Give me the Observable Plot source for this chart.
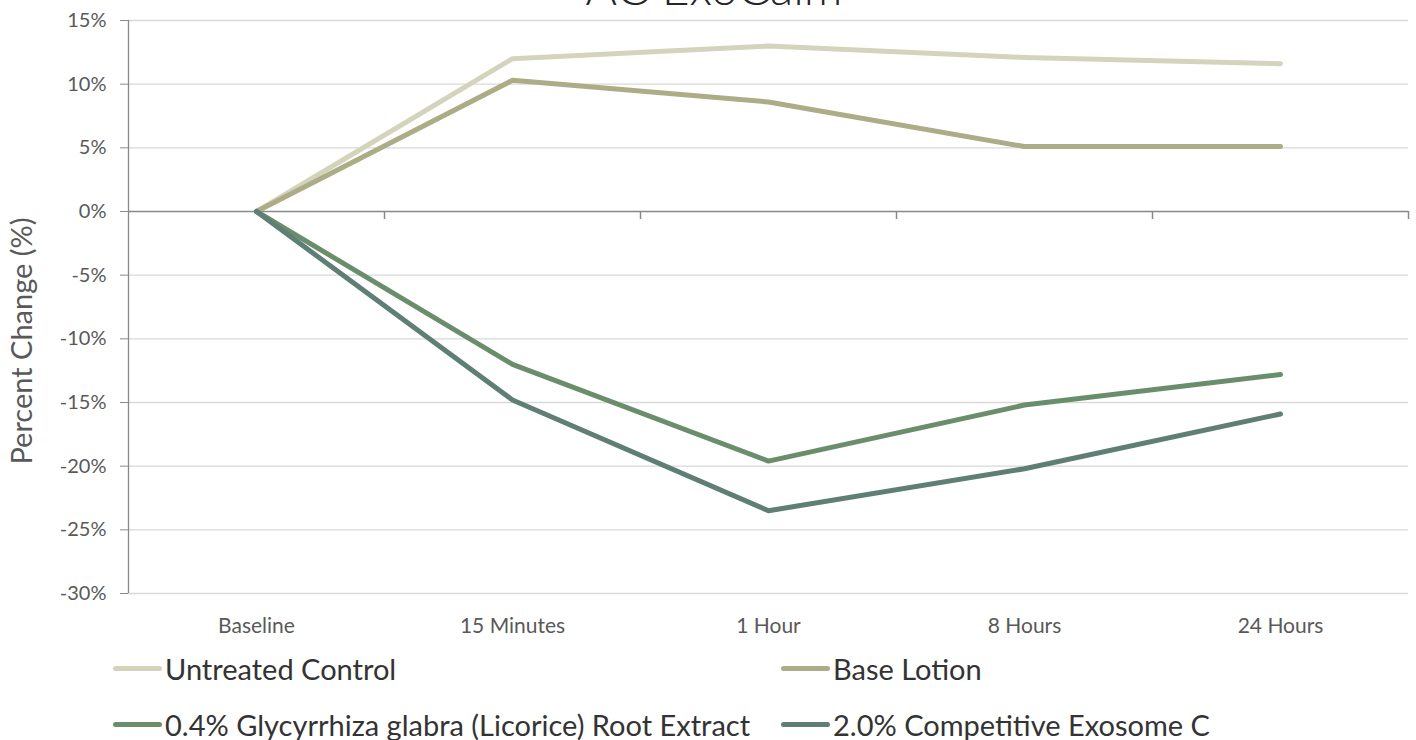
<!DOCTYPE html>
<html>
<head>
<meta charset="utf-8">
<script src="https://cdn.jsdelivr.net/npm/d3@7"></script>
<script src="https://cdn.jsdelivr.net/npm/@observablehq/plot@0.6"></script>
<style>
  html, body { margin: 0; padding: 0; background: #fff; overflow: hidden; }
  #wrap { position: relative; width: 1416px; height: 740px; overflow: hidden; }
  #title { position: absolute; left: 6px; width: 1416px; top: -37px; text-align: center;
           font-family: Lato, sans-serif; font-size: 48px; line-height: 48px; color: #262626; font-weight: 300; }
  #legend { display: grid; grid-template-columns: 668px auto; padding-left: 113px;
            font-family: Lato, sans-serif; font-size: 29px; color: #333; }
  .item { display: flex; align-items: center; height: 56px; }
  .sw { width: 49px; height: 5px; border-radius: 3px; margin-right: 3px; }
</style>
</head>
<body>
<div id="wrap">
  <div id="chart"></div>
  <div id="legend"></div>
  <div id="title">AC ExoCalm</div>
</div>
<script>
const categories = ["Baseline", "15 Minutes", "1 Hour", "8 Hours", "24 Hours"];
const seriesNames = ["Untreated Control", "Base Lotion", "0.4% Glycyrrhiza glabra (Licorice) Root Extract", "2.0% Competitive Exosome C"];
const seriesColors = ["#d4d4bc", "#acac87", "#6a8e6b", "#5e7e76"];
const untreated = [0, 12.0, 13.0, 12.1, 11.6];
const baseLotion = [0, 10.3, 8.6, 5.1, 5.1];
const licorice = [0, -12.0, -19.6, -15.2, -12.8];
const exosome = [0, -14.8, -23.5, -20.2, -15.9];
const yTicks = [-30, -25, -20, -15, -10, -5, 0, 5, 10, 15];

const seriesValues = [untreated, baseLotion, licorice, exosome];
const rows = [];
seriesNames.forEach((name, s) => {
  seriesValues[s].forEach((v, i) => rows.push({series: name, i, value: v}));
});
const idx = categories.map((c, i) => i);
const boundaries = categories.map((c, i) => i + 0.5);

const chart = Plot.plot({
  width: 1416,
  height: 640,
  marginTop: 20,
  marginBottom: 47,
  marginLeft: 128,
  marginRight: 8,
  style: {fontFamily: "Lato, sans-serif", color: "#595959", background: "#fff"},
  x: {type: "linear", domain: [-0.5, categories.length - 0.5]},
  y: {domain: [-30, 15]},
  color: {domain: seriesNames, range: seriesColors},
  marks: [
    Plot.ruleY(yTicks.filter(d => d !== 0), {stroke: "#d9d9d9", strokeWidth: 1.3}),
    Plot.ruleX([-0.5], {stroke: "#898989", strokeWidth: 1.3}),
    Plot.axisY({ticks: yTicks, tickFormat: d => d + "%", tickSize: 8, tickPadding: 14, fontSize: 20, label: null, stroke: "#898989"}),
    Plot.axisX({ticks: idx, tickFormat: i => categories[i], tickSize: 0, tickPadding: 25, fontSize: 21, label: null}),
    Plot.ruleY([0], {stroke: "#898989", strokeWidth: 1.5}),
    Plot.ruleX(boundaries, {y1: 0, y2: -0.63, stroke: "#898989", strokeWidth: 1.5}),
    Plot.line(rows, {x: "i", y: "value", stroke: "series", strokeWidth: 5, strokeLinecap: "round", strokeLinejoin: "round"}),
    Plot.text(["Percent Change (%)"], {frameAnchor: "left", textAnchor: "middle", dx: -106, dy: 34, rotate: -90, fontSize: 29, fill: "#595959"})
  ]
});
document.getElementById("chart").appendChild(chart);

const legend = document.getElementById("legend");
const order = [0, 1, 2, 3];
order.forEach(s => {
  const item = document.createElement("div");
  item.className = "item";
  const sw = document.createElement("div");
  sw.className = "sw";
  sw.style.background = seriesColors[s];
  const t = document.createElement("span");
  t.textContent = seriesNames[s];
  item.appendChild(sw);
  item.appendChild(t);
  legend.appendChild(item);
});
</script>
</body>
</html>
